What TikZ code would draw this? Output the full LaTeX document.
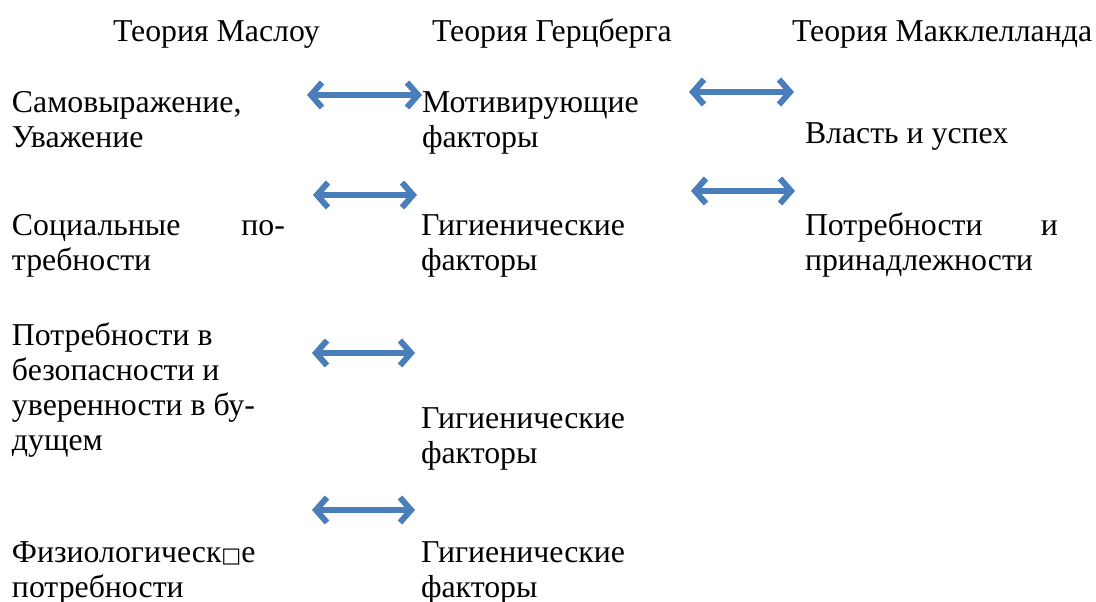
\documentclass[tikz,border=0pt]{standalone}
\usepackage{fontspec}
\setmainfont{LiberationSerif}[Extension=.ttf,UprightFont=*-Regular,BoldFont=*-Bold,ItalicFont=*-Italic,BoldItalicFont=*-BoldItalic]
\newfontfamily\dejavu{DejaVu Sans}
\usetikzlibrary{arrows.meta}
\definecolor{arrowblue}{RGB}{74,126,187}
\newcommand{\linestack}[1]{\vtop{\baselineskip=35pt\lineskip=0pt\lineskiplimit=0pt #1}}
\newcommand{\missingglyph}{{\dejavu\fontsize{21}{21}\selectfont □}}
\begin{document}
\begin{tikzpicture}[x=1pt,y=-1pt,
  txt/.style={anchor=base west,inner sep=0pt,outer sep=0pt,font=\fontsize{31.8}{35}\selectfont},
  biarrow/.style={draw=arrowblue,line width=6pt,line join=miter,
    {Straight Barb[length=11pt,width=25pt]}-{Straight Barb[length=11pt,width=25pt]}}]
\useasboundingbox (0,0) rectangle (1096,602);
% headers
\node[txt] (hM) at (113,42) {Теория Маслоу};
\node[txt] (hH) at (432,42) {Теория Герцберга};
\node[txt] (hK) at (792,42) {Теория Макклелланда};
% Maslow column
\node[txt] (m1) at (12,113) {\linestack{\hbox{Самовыражение,}\hbox{Уважение}}};
\node[txt] (m2) at (12,235) {\linestack{\hbox to 273pt{Социальные\hfill по-}\hbox{требности}}};
\node[txt] (m3) at (12,345) {\linestack{\hbox{Потребности в}\hbox{безопасности и}\hbox{уверенности в бу-}\hbox{дущем}}};
\node[txt] (m4) at (12,562) {\linestack{\hbox{Физиологическ\missingglyph е}\hbox{потребности}}};
% Herzberg column
\node[txt] (g1) at (422,113) {\linestack{\hbox{Мотивирующие}\hbox{факторы}}};
\node[txt] (g2) at (421,235) {\linestack{\hbox{Гигиенические}\hbox{факторы}}};
\node[txt] (g3) at (421,428) {\linestack{\hbox{Гигиенические}\hbox{факторы}}};
\node[txt] (g4) at (421,562) {\linestack{\hbox{Гигиенические}\hbox{факторы}}};
% McClelland column
\node[txt] (k1) at (805,143) {Власть и успех};
\node[txt] (k2) at (805,235) {\linestack{\hbox to 253pt{Потребности\hfill и}\hbox{принадлежности}}};
% arrow end points
\coordinate (a1l) at (307,95);  \coordinate (a1r) at (422,95);
\coordinate (a2l) at (689,92);  \coordinate (a2r) at (794,92);
\coordinate (a3l) at (313,195); \coordinate (a3r) at (417,195);
\coordinate (a4l) at (691,191); \coordinate (a4r) at (795,191);
\coordinate (a5l) at (312,353); \coordinate (a5r) at (415,353);
\coordinate (a6l) at (312,510); \coordinate (a6r) at (415,510);
\draw[biarrow] (a1l) -- (a1r);
\draw[biarrow] (a2l) -- (a2r);
\draw[biarrow] (a3l) -- (a3r);
\draw[biarrow] (a4l) -- (a4r);
\draw[biarrow] (a5l) -- (a5r);
\draw[biarrow] (a6l) -- (a6r);
\end{tikzpicture}
\end{document}
